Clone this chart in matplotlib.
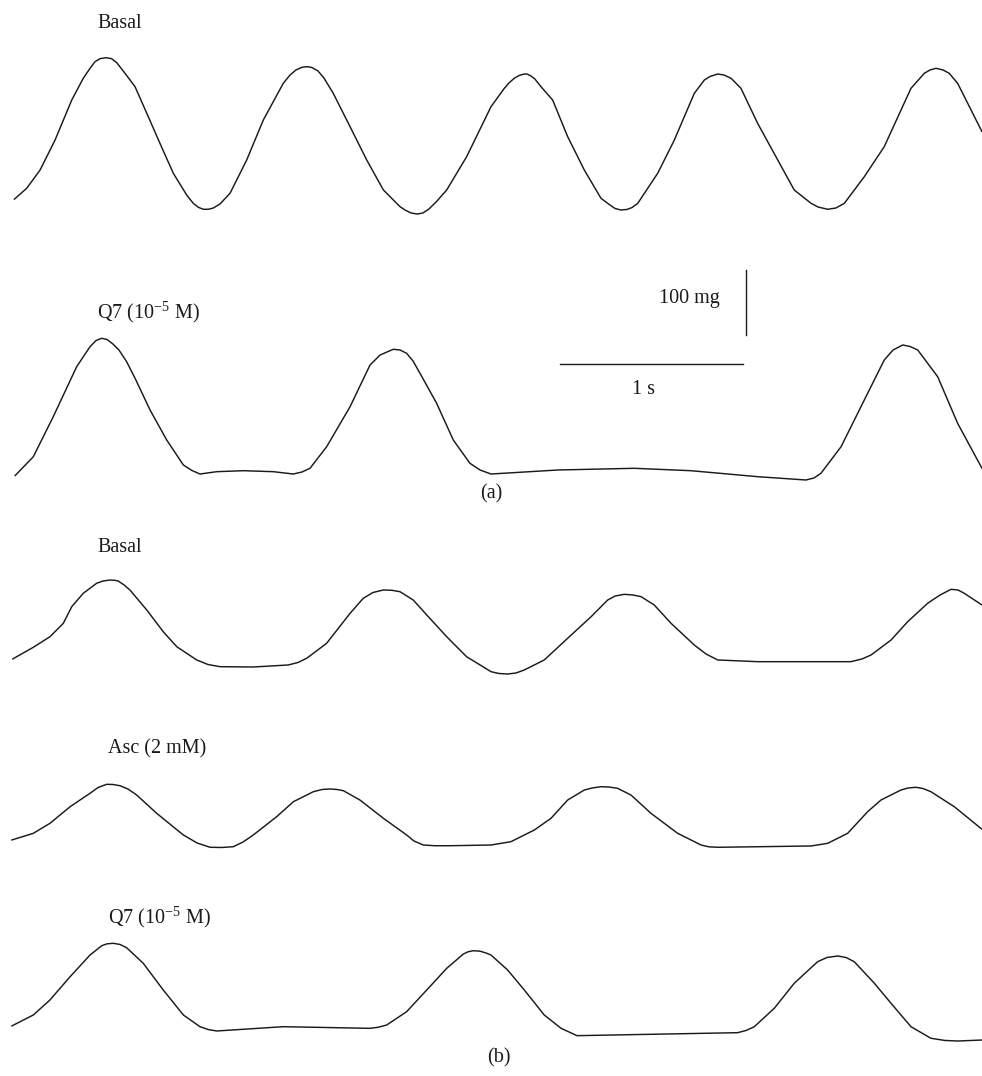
import numpy as np
import matplotlib
matplotlib.use("Agg")
import matplotlib.pyplot as plt

plt.rcParams['font.family'] = ['Liberation Serif', 'DejaVu Serif']
plt.rcParams['mathtext.default'] = 'regular'

# ---- data: (time s, relative tension mg) ----
basal_a = [(0.078, 24.2), (0.146, 41.1), (0.219, 69.2), (0.301, 115.4), (0.392, 176.9), (0.455, 210.3),
           (0.492, 225.7), (0.519, 235.8), (0.546, 240.5), (0.579, 242.0), (0.610, 240.5), (0.638, 234.3),
           (0.683, 218.0), (0.738, 197.4), (0.802, 156.5), (0.874, 110.3), (0.947, 64.2), (1.020, 30.8),
           (1.056, 18.0), (1.084, 11.8), (1.111, 8.8), (1.138, 8.8), (1.166, 10.8), (1.202, 16.9),
           (1.257, 33.4), (1.348, 84.6), (1.439, 146.2), (1.548, 202.6), (1.585, 215.4), (1.617, 223.1),
           (1.650, 227.2), (1.678, 228.2), (1.705, 226.9), (1.738, 221.5), (1.770, 210.8), (1.821, 187.2),
           (1.913, 135.8), (2.004, 84.6), (2.095, 38.5), (2.186, 12.8), (2.213, 7.7), (2.246, 3.1),
           (2.279, 1.5), (2.311, 3.1), (2.344, 9.2), (2.388, 21.5), (2.441, 38.5), (2.550, 89.7),
           (2.683, 166.6), (2.756, 194.9), (2.781, 203.1), (2.810, 210.3), (2.836, 214.6), (2.865, 216.9),
           (2.880, 216.9), (2.902, 213.8), (2.923, 209.2), (2.956, 197.4), (3.020, 176.9), (3.102, 120.5),
           (3.193, 69.2), (3.284, 25.7), (3.333, 15.4), (3.361, 10.0), (3.393, 7.7), (3.426, 8.5),
           (3.454, 11.5), (3.485, 18.0), (3.594, 64.2), (3.685, 115.4), (3.794, 187.2), (3.849, 207.7),
           (3.880, 213.1), (3.922, 216.9), (3.956, 215.4), (3.995, 210.3), (4.049, 194.9), (4.140, 141.1),
           (4.250, 84.6), (4.340, 38.5), (4.432, 18.0), (4.470, 12.3), (4.523, 8.8), (4.568, 10.8),
           (4.614, 18.0), (4.723, 58.9), (4.832, 105.1), (4.978, 194.9), (5.051, 218.0), (5.082, 223.1),
           (5.115, 225.7), (5.153, 223.1), (5.187, 218.0), (5.233, 202.6), (5.366, 128.2)]

q7_a = [(0.082, 6.6), (0.182, 35.8), (0.291, 97.4), (0.419, 174.3), (0.492, 205.1), (0.525, 214.6),
        (0.556, 218.0), (0.585, 216.2), (0.617, 209.2), (0.650, 200.0), (0.692, 182.0), (0.738, 156.5),
        (0.820, 107.7), (0.911, 61.5), (1.002, 23.1), (1.049, 14.6), (1.093, 9.2), (1.184, 12.8),
        (1.330, 14.3), (1.493, 12.8), (1.603, 9.2), (1.650, 12.3), (1.694, 18.0), (1.785, 51.2),
        (1.913, 112.8), (2.022, 176.9), (2.077, 192.3), (2.149, 201.1), (2.186, 200.0), (2.222, 194.9),
        (2.257, 183.1), (2.295, 164.2), (2.386, 118.0), (2.477, 61.5), (2.568, 25.7), (2.623, 15.4),
        (2.683, 9.2), (3.048, 15.4), (3.466, 18.0), (3.776, 14.3), (4.140, 5.1), (4.404, 0.0),
        (4.448, 3.1), (4.486, 10.3), (4.596, 51.2), (4.723, 123.1), (4.832, 184.6), (4.880, 200.0),
        (4.933, 207.7), (4.973, 205.4), (5.015, 200.0), (5.124, 158.9), (5.233, 87.2), (5.366, 18.0)]

basal_b = [(0.069, 12.3), (0.182, 30.3), (0.273, 46.6), (0.346, 67.2), (0.392, 92.8), (0.455, 113.4),
           (0.528, 128.8), (0.563, 132.3), (0.601, 133.8), (0.628, 133.4), (0.646, 132.3), (0.678, 126.2),
           (0.710, 118.5), (0.802, 87.7), (0.892, 54.3), (0.966, 31.2), (1.075, 10.8), (1.137, 3.8),
           (1.202, 0.5), (1.384, 0.0), (1.575, 3.1), (1.628, 6.9), (1.676, 13.4), (1.785, 36.5),
           (1.913, 82.6), (1.985, 105.7), (2.038, 114.6), (2.095, 118.5), (2.142, 118.0), (2.186, 115.8),
           (2.258, 103.1), (2.332, 80.0), (2.441, 46.6), (2.550, 15.8), (2.683, -7.2), (2.727, -10.0),
           (2.774, -10.8), (2.820, -9.2), (2.865, -4.6), (2.974, 10.8), (3.102, 44.2), (3.230, 77.4),
           (3.321, 103.1), (3.361, 109.2), (3.411, 111.8), (3.459, 110.8), (3.503, 108.2), (3.575, 95.4),
           (3.667, 67.2), (3.794, 33.8), (3.858, 20.0), (3.922, 10.8), (4.140, 8.2), (4.650, 8.2),
           (4.710, 12.3), (4.760, 18.5), (4.869, 41.5), (4.960, 69.7), (5.069, 98.0), (5.137, 110.8),
           (5.197, 119.5), (5.235, 118.5), (5.269, 113.4), (5.366, 95.4)]

asc_b = [(0.064, 12.3), (0.182, 22.6), (0.273, 38.0), (0.383, 63.5), (0.492, 84.2), (0.536, 93.1),
         (0.583, 98.0), (0.617, 97.7), (0.656, 95.8), (0.699, 90.8), (0.747, 81.5), (0.856, 53.4),
         (1.002, 20.0), (1.077, 7.7), (1.148, 1.1), (1.213, 0.8), (1.275, 2.0), (1.328, 9.2),
         (1.384, 20.0), (1.512, 48.2), (1.603, 71.2), (1.712, 86.6), (1.760, 90.0), (1.803, 90.8),
         (1.842, 90.0), (1.876, 88.2), (1.967, 73.8), (2.095, 45.7), (2.222, 20.0), (2.262, 10.8),
         (2.313, 4.6), (2.377, 3.5), (2.459, 3.5), (2.683, 4.6), (2.792, 9.7), (2.920, 27.7),
         (3.011, 45.7), (3.102, 73.8), (3.193, 89.2), (3.235, 92.3), (3.284, 94.3), (3.328, 93.8),
         (3.375, 91.8), (3.448, 81.5), (3.557, 53.4), (3.703, 22.6), (3.831, 4.6), (3.874, 1.8),
         (3.922, 1.1), (4.432, 3.1), (4.523, 7.2), (4.632, 22.6), (4.741, 55.8), (4.814, 73.8),
         (4.923, 89.2), (4.962, 92.3), (5.005, 93.4), (5.044, 91.5), (5.087, 86.6), (5.215, 63.5),
         (5.366, 28.8)]

q7_b = [(0.064, 23.1), (0.182, 40.0), (0.273, 63.1), (0.383, 98.9), (0.492, 132.3), (0.556, 146.6),
        (0.585, 149.5), (0.619, 150.3), (0.656, 148.5), (0.692, 143.5), (0.783, 119.5), (0.892, 78.5),
        (1.002, 40.0), (1.093, 22.0), (1.137, 17.7), (1.184, 15.4), (1.548, 22.0), (2.022, 19.5),
        (2.066, 21.1), (2.113, 24.6), (2.222, 45.1), (2.332, 78.5), (2.441, 111.8), (2.532, 133.8),
        (2.557, 137.2), (2.586, 138.9), (2.623, 138.2), (2.656, 135.4), (2.683, 132.3), (2.774, 109.2),
        (2.865, 78.5), (2.974, 40.0), (3.066, 19.5), (3.153, 8.2), (4.031, 12.8), (4.077, 16.2),
        (4.122, 22.0), (4.231, 50.3), (4.340, 88.8), (4.468, 122.0), (4.519, 128.5), (4.578, 130.8),
        (4.623, 128.5), (4.668, 122.0), (4.778, 88.8), (4.869, 58.0), (4.978, 22.0), (5.087, 4.2),
        (5.164, 0.8), (5.233, 0.0), (5.366, 1.5)]

labels = ["Basal", "Q7 (10$^{-5}$ M)", "Basal", "Asc (2 mM)", "Q7 (10$^{-5}$ M)"]
panel_labels = ["(a)", "(b)"]
scale_time_s = 1.0
scale_force_mg = 100.0

# ---- layout (pixels of the 982 x 1076 canvas) ----
W, H = 982, 1076
px_per_s = 183.0
px_per_mg = 0.65
trace_base_px = [215, 480, 667, 848, 1041]      # pixel row of 0 mg for each trace
label_pos_px = [(97, 24), (97, 312), (97, 548), (108, 749), (108, 917)]
panel_pos_px = [(491, 494), (499, 1058)]

fig = plt.figure(figsize=(W / 100, H / 100), dpi=100)
ax = fig.add_axes([0, 0, 1, 1])
ax.set_xlim(0, W / px_per_s)
ax.set_ylim(0, H / px_per_mg)
ax.axis('off')

traces = [basal_a, q7_a, basal_b, asc_b, q7_b]
for tr, base in zip(traces, trace_base_px):
    arr = np.asarray(tr, dtype=float)
    off = (H - base) / px_per_mg
    ax.plot(arr[:, 0], arr[:, 1] + off, color='#1a1a1a', lw=1.05,
            solid_joinstyle='round', solid_capstyle='round', clip_on=False)

# scale bars
hb_x0 = 560 / px_per_s
hb_y = (H - 364) / px_per_mg
ax.plot([hb_x0, hb_x0 + scale_time_s], [hb_y, hb_y], color='#1a1a1a', lw=1.0)
vb_x = 746 / px_per_s
vb_y0 = (H - 335) / px_per_mg
ax.plot([vb_x, vb_x], [vb_y0, vb_y0 + scale_force_mg], color='#1a1a1a', lw=1.0)
fig.text(689 / W, 1 - 299 / H, f"{scale_force_mg:.0f} mg", ha='center', va='center',
         fontsize=14.5, color='#1a1a1a')
fig.text(644 / W, 1 - 390 / H, f"{scale_time_s:.0f} s", ha='center', va='center',
         fontsize=14.5, color='#1a1a1a')

for lab, (x, y) in zip(labels, label_pos_px):
    fig.text(x / W, 1 - y / H, lab, ha='left', va='center', fontsize=14.5, color='#1a1a1a')
for lab, (x, y) in zip(panel_labels, panel_pos_px):
    fig.text(x / W, 1 - y / H, lab, ha='center', va='center', fontsize=14.5, color='#1a1a1a')

fig.savefig("out.png", dpi=100, facecolor='white')
